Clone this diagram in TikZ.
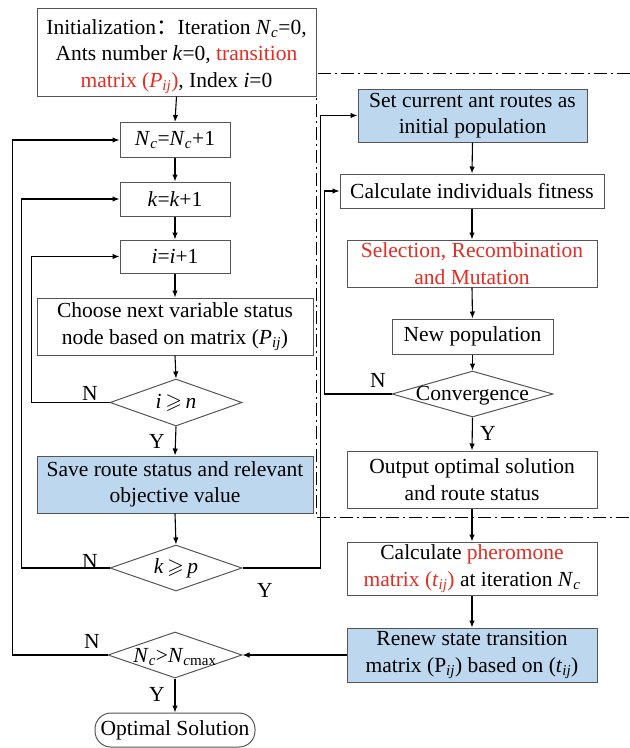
\documentclass[tikz,border=0pt]{standalone}
\usepackage{fontspec}
\setmainfont{Liberation Serif}
\newfontfamily\cjk{Noto Sans CJK SC}
\usepackage{amssymb}
\usetikzlibrary{arrows.meta,shapes.geometric}
\definecolor{boxblue}{RGB}{189,215,238}
\definecolor{txtred}{RGB}{230,45,35}
\definecolor{bordergray}{RGB}{85,85,85}
\newcommand{\rd}[1]{\textcolor{txtred}{#1}}
\newcommand{\Ncc}{\textit{N}\textsubscript{\textit{c}}}
\newcommand{\gsl}{\,$\geqslant$\,}
\tikzset{
  box/.style={draw=bordergray, line width=1pt, fill=white, align=center, inner sep=0pt,
    font=\fontsize{21.5}{26.5}\selectfont},
  bluebox/.style={box, fill=boxblue},
  dia/.style={draw=bordergray, line width=1pt, diamond, inner sep=0pt, aspect=2.8},
  lbl/.style={font=\fontsize{21.5}{26.5}\selectfont, inner sep=0pt},
  arr/.style={line width=1.1pt, -{Latex[length=7pt,width=5.5pt]}},
  dashdot/.style={line width=1pt, dash pattern=on 13pt off 4pt on 2pt off 4pt}
}
\begin{document}
\begin{tikzpicture}[x=1pt,y=-1pt]
\useasboundingbox (0,0) rectangle (630,748);
% dash-dot frame
\draw[dashdot] (630,73) -- (316,73) -- (316,517) -- (630,517);
% left column
\node[box, minimum width=279, minimum height=88] (init) at (176.5,52)
  {\rule{0pt}{24pt}Initialization{\cjk ：}Iteration \Ncc=0,\\ Ants number \textit{k}=0, \rd{transition}\\ \rd{matrix (\textit{P}\textsubscript{\textit{ij}})}, Index \textit{i}=0};
\node[box, minimum width=110, minimum height=35] (nc) at (175,140) {\Ncc=\Ncc+1};
\node[box, minimum width=110, minimum height=34] (kk) at (175,199) {\textit{k}=\textit{k}+1};
\node[box, minimum width=110, minimum height=33] (ii) at (175,256.5) {\textit{i}=\textit{i}+1};
\node[box, minimum width=276, minimum height=57] (choose) at (175,326.5)
  {Choose next variable status\\ node based on matrix (\textit{P}\textsubscript{\textit{ij}})};
\node[dia, minimum width=132, minimum height=47] (d1) at (176,402.5) {};
\node[lbl] (d1t) at (d1) {\textit{i}\gsl\textit{n}};
\node[bluebox, minimum width=276, minimum height=57] (save) at (175,484.5)
  {Save route status and relevant\\ objective value};
\node[dia, minimum width=132, minimum height=46] (d2) at (176,568) {};
\node[lbl] (d2t) at (d2) {\textit{k}\gsl\textit{p}};
\node[dia, minimum width=134, minimum height=46] (d3) at (175,655) {};
\node[lbl] (d3t) at ([yshift=-2pt]d3) {\Ncc{}>\textit{N}\textsubscript{\textit{c}max}};
\node[box, minimum width=160, minimum height=34, rounded corners=16pt] (opt) at (175,730) {Optimal Solution};
% right column
\node[bluebox, minimum width=229, minimum height=53] (set) at (472.5,115.5)
  {Set current ant routes as\\ initial population};
\node[box, minimum width=264, minimum height=34] (fit) at (472,191) {Calculate individuals fitness};
\node[box, minimum width=250, minimum height=47] (sel) at (472,263.5)
  {\rd{Selection, Recombination}\\ \rd{and Mutation}};
\node[box, minimum width=161, minimum height=35] (newp) at (472.5,336.5) {New population};
\node[dia, minimum width=161, minimum height=46] (conv) at (472.5,394) {};
\node[lbl] (convt) at ([yshift=-2pt]conv) {Convergence};
\node[box, minimum width=250, minimum height=57] (out) at (472,479.5)
  {Output optimal solution\\ and route status};
\node[box, minimum width=250, minimum height=53] (pher) at (472,568.5)
  {Calculate \rd{pheromone}\\ \rd{matrix (\textit{t}\textsubscript{\textit{ij}})} at iteration \Ncc};
\node[bluebox, minimum width=250, minimum height=54] (renew) at (472,655)
  {Renew state transition\\ matrix (P\textsubscript{\textit{ij}}) based on (\textit{t}\textsubscript{\textit{ij}})};
% connectors left
\draw[arr] (init.south) -- (nc.north);
\draw[arr] (nc.south) -- (kk.north);
\draw[arr] (kk.south) -- (ii.north);
\draw[arr] (ii.south) -- (choose.north);
\draw[arr] (choose.south) -- (d1.north);
\draw[arr] (d1.south) -- (save.north);
\draw[arr] (save.south) -- (d2.north);
\draw[arr] (d3.south) -- (opt.north);
\draw[arr] (d1.west) -- ++(-78,0) |- (ii.west);
\draw[arr] (d2.west) -- ++(-88,0) |- (kk.west);
\draw[arr] (d3.west) -- ++(-95,0) |- (nc.west);
\draw[arr] (d2.east) -- ++(78,0) |- (set.west);
% connectors right
\draw[arr] (set.south) -- (fit.north);
\draw[arr] (fit.south) -- (sel.north);
\draw[arr] (sel.south) -- (newp.north);
\draw[arr] (newp.south) -- (conv.north);
\draw[arr] (conv.south) -- (out.north);
\draw[arr] (conv.west) -- ++(-67,0) |- (fit.west);
\draw[arr] (out.south) -- (pher.north);
\draw[arr] (pher.south) -- (renew.north);
\draw[arr] (renew.west) -- (d3.east);
% labels
\node[lbl] (n1) at (90,393) {N};
\node[lbl] (n2) at (90,561) {N};
\node[lbl] (n3) at (92,641) {N};
\node[lbl] (y1) at (157,441) {Y};
\node[lbl] (y2) at (265,590) {Y};
\node[lbl] (y3) at (157,694) {Y};
\node[lbl] (n4) at (378,380) {N};
\node[lbl] (y4) at (488,433) {Y};
\end{tikzpicture}
\end{document}
